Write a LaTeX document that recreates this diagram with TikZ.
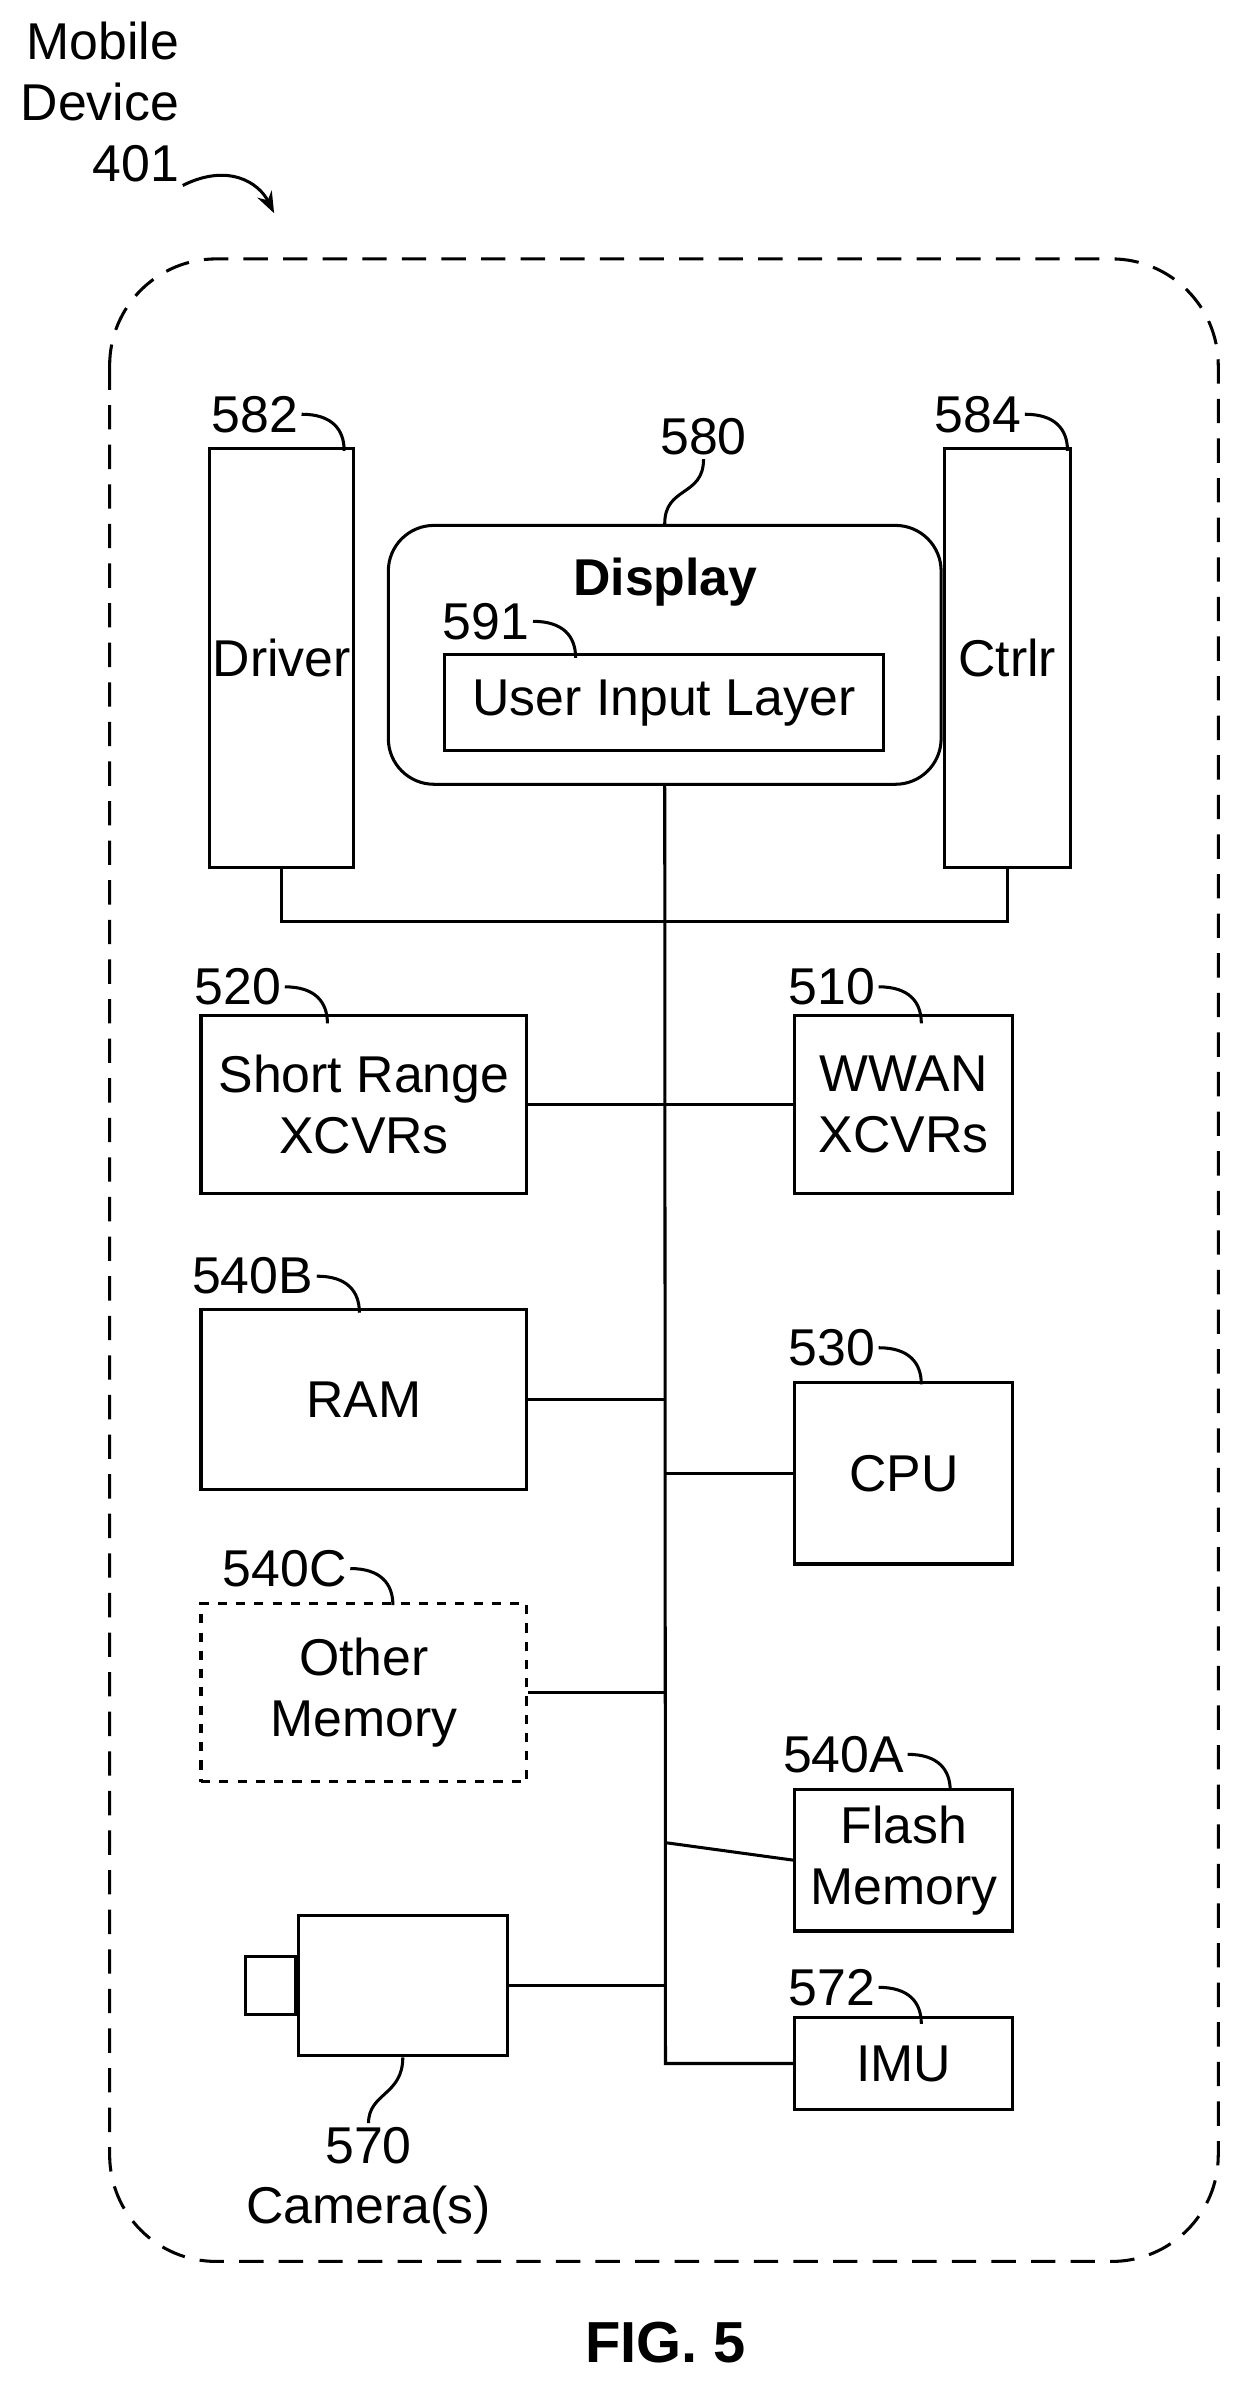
\documentclass[tikz,border=0pt]{standalone}
\usepackage{fontspec}
\setmainfont{Liberation Sans}
\usetikzlibrary{arrows.meta,positioning}
\tikzset{
    txt/.style={font=\fontsize{17}{20}\selectfont, inner sep=1pt},
    blk/.style={txt, draw, line width=1pt, align=center},
    lbl/.style={txt, anchor=east},
    hook/.style={line width=1pt},
    wire/.style={line width=1pt},
}
\begin{document}
\begin{tikzpicture}[x=0.5pt, y=-0.5pt]
    \useasboundingbox (0,0) rectangle (820,1576);
    % outer device outline
    \draw[line width=1pt, dash pattern=on 8pt off 5pt, rounded corners=35pt]
        (72,170) rectangle (800,1485);
    \node[txt, align=right, anchor=north east] (mob) at (120,12) {Mobile\\Device\\401};
    \coordinate (arrend) at (180,140);
    \draw[hook, -{Stealth[length=7pt]}] (mob.south east) .. controls +(30,-15) and +(-10,-20) .. (arrend);

    % display group
    \node[blk, minimum width=43pt, minimum height=137.5pt] (driver) at (185,432) {Driver};
    \node[blk, minimum width=41.5pt, minimum height=137.5pt] (ctrlr) at (661.5,432) {Ctrlr};
    \node[blk, rounded corners=15pt, minimum width=181.5pt, minimum height=85pt] (disp) at (436.5,430) {};
    \node[txt, font=\fontsize{17}{20}\selectfont\bfseries] (disptxt) at (437,382) {Display};
    \node[blk, minimum width=144pt, minimum height=31.5pt] (uil) at (436,461.5) {User Input Layer};

    % components
    \node[blk, minimum width=107pt, minimum height=58.5pt] (src) at (239,725.5) {Short Range\\XCVRs};
    \node[blk, minimum width=71.5pt, minimum height=58.5pt] (wwan) at (593.5,725.5) {WWAN\\XCVRs};
    \node[blk, minimum width=107pt, minimum height=59pt] (ram) at (239,919) {RAM};
    \node[blk, minimum width=71.5pt, minimum height=59.5pt] (cpu) at (593.5,967.5) {CPU};
    \node[blk, dashed, minimum width=107pt, minimum height=58.5pt] (oth) at (239,1111.5) {Other\\Memory};
    \node[blk, minimum width=71.5pt, minimum height=46.5pt] (flash) at (593.5,1221.5) {Flash\\Memory};
    \node[blk, minimum width=68.5pt, minimum height=46pt] (cam) at (264.5,1304) {};
    \node[blk, minimum width=16.5pt, minimum height=19pt, left=0pt of cam] (lens) {};
    \node[blk, minimum width=71.5pt, minimum height=30pt] (imu) at (593.5,1355) {IMU};

    % bus
    \coordinate (bt) at (437,605);
    \coordinate (bb) at (437,1355);
    \draw[wire] (disp.south) -- (bb) -- (imu.west);
    \draw[wire] (driver.south) |- (bt) -| (ctrlr.south);
    \draw[wire] (src.east) -- (wwan.west);
    \draw[wire] (ram.east) -- (437,919);
    \draw[wire] (437,967.5) -- (cpu.west);
    \draw[wire] (oth.east) -- (437,1111.5);
    \draw[wire] (437,1210) -- (flash.west);
    \draw[wire] (cam.east) -- (437,1304);

    % reference labels
    \node[lbl] (l582) at (198,272) {582};
    \node[lbl] (l584) at (673,272) {584};
    \node[lbl] (l591) at (350,408) {591};
    \node[lbl] (l520) at (187,648) {520};
    \node[lbl] (l510) at (577,648) {510};
    \node[lbl] (l540b) at (208,838) {540B};
    \node[lbl] (l530) at (577,885) {530};
    \node[lbl] (l540c) at (230,1030) {540C};
    \node[lbl] (l540a) at (596,1152) {540A};
    \node[lbl] (l572) at (577,1305) {572};
    \foreach \l in {l582,l584,l591,l520,l510,l540b,l530,l540c,l540a,l572}
        \draw[hook] (\l.east) .. controls +(20,0) and +(0,-14) .. ++(28,24);
    \node[txt] (l580) at (462,287) {580};
    \draw[hook] (disp.north) .. controls +(0,-25) and +(0,25) .. (l580.south);
    \node[txt, align=center] (l570) at (242,1432) {570\\Camera(s)};
    \draw[hook] (cam.south) .. controls +(0,25) and +(0,-20) .. (l570.north);

    \node[txt, font=\fontsize{19}{22}\selectfont\bfseries] (fig) at (437,1538) {FIG. 5};
\end{tikzpicture}
\end{document}
